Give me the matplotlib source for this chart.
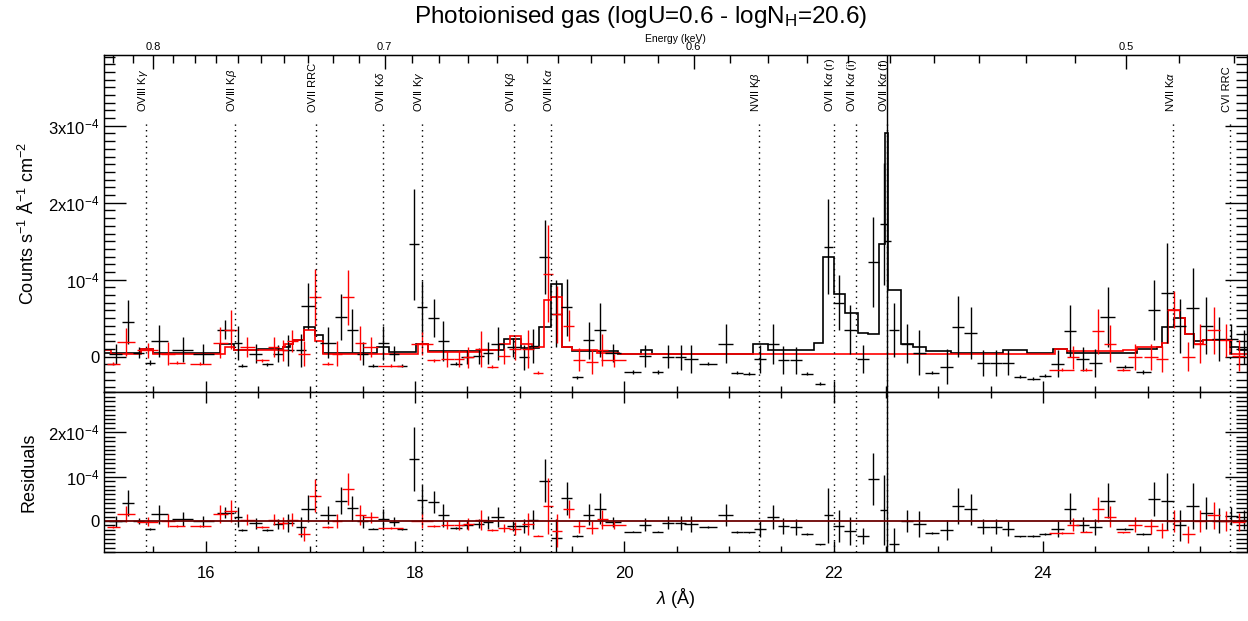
import numpy as np
import matplotlib
matplotlib.use("Agg")
from matplotlib import pyplot as plt
from matplotlib.ticker import FixedLocator, MultipleLocator, FuncFormatter
from matplotlib.transforms import blended_transform_factory

plt.rcParams['font.family'] = ['Liberation Sans', 'DejaVu Sans']
plt.rcParams['mathtext.fontset'] = 'custom'
plt.rcParams['mathtext.rm'] = 'Liberation Sans'
plt.rcParams['mathtext.it'] = 'Liberation Sans:italic'
plt.rcParams['mathtext.bf'] = 'Liberation Sans:bold'

# flux in units of 1e-4 counts s^-1 A^-1 cm^-2, wavelength in Angstrom
# black data: wavelength, flux, error
blk_wl = [15.14, 15.26, 15.36, 15.47, 15.56, 15.78, 15.98, 16.19, 16.31, 16.35, 16.48, 16.59, 16.69,
          16.79, 16.91, 16.98, 17.17, 17.29, 17.40, 17.50, 17.60, 17.70, 17.80, 17.88, 17.99, 18.07,
          18.18, 18.27, 18.39, 18.50, 18.61, 18.70, 18.79, 18.94, 19.04, 19.13, 19.24, 19.35, 19.45,
          19.55, 19.66, 19.77, 19.89, 20.08, 20.20, 20.32, 20.42, 20.54, 20.64, 20.80, 20.97, 21.08,
          21.19, 21.30, 21.42, 21.52, 21.64, 21.75, 21.87, 21.95, 22.05, 22.16, 22.28, 22.38, 22.48,
          22.515, 22.58, 22.70, 22.82, 22.94, 23.08, 23.19, 23.31, 23.43, 23.55, 23.67, 23.78, 23.91,
          24.02, 24.14, 24.26, 24.38, 24.50, 24.62, 24.78, 24.96, 25.06, 25.19, 25.31, 25.43, 25.56,
          25.68, 25.80, 25.92]
blk_flux = [0.04, 0.45, 0.05, -0.08, 0.20, 0.09, 0.04, 0.35, 0.18, -0.12, 0.04, -0.10, 0.04,
            0.08, 0.08, 0.66, 0.18, 0.51, 0.34, 0.04, -0.12, 0.18, 0.04, -0.12, 1.46, 0.64,
            0.50, 0.20, -0.09, -0.01, 0.01, 0.05, 0.17, 0.12, -0.01, 0.14, 1.29, 0.56, 0.64,
            -0.27, 0.21, 0.35, 0.05, -0.20, 0.01, -0.20, 0.00, -0.01, -0.03, -0.09, 0.17, -0.21,
            -0.22, -0.03, 0.17, -0.04, -0.05, -0.22, -0.35, 1.43, 0.70, 0.35, -0.03, 1.23, 1.72,
            1.50, 0.35, 0.17, 0.05, -0.21, -0.13, 0.39, 0.31, -0.08, -0.08, -0.08, -0.26, -0.29,
            -0.25, -0.09, 0.33, -0.03, -0.08, 0.51, -0.13, -0.20, 0.60, 0.83, 0.40, 0.63, 0.40,
            0.23, 0.23, 0.12]
blk_err = [0.13, 0.29, 0.07, 0.03, 0.21, 0.16, 0.13, 0.12, 0.22, 0.02, 0.12, 0.02, 0.11,
           0.20, 0.22, 0.30, 0.20, 0.30, 0.28, 0.15, 0.02, 0.22, 0.10, 0.02, 0.72, 0.34,
           0.25, 0.26, 0.02, 0.09, 0.10, 0.14, 0.22, 0.12, 0.16, 0.22, 0.48, 0.43, 0.37,
           0.02, 0.24, 0.35, 0.12, 0.02, 0.14, 0.02, 0.15, 0.16, 0.18, 0.02, 0.25, 0.02,
           0.02, 0.18, 0.26, 0.18, 0.18, 0.02, 0.02, 0.62, 0.36, 0.32, 0.18, 0.59, 0.79,
           5.0, 0.35, 0.25, 0.29, 0.02, 0.23, 0.40, 0.34, 0.17, 0.17, 0.16, 0.02, 0.02,
           0.02, 0.18, 0.34, 0.16, 0.18, 0.39, 0.02, 0.02, 0.39, 0.65, 0.35, 0.52, 0.37,
           0.29, 0.20, 0.22]

# red data
red_wl = [15.12, 15.24, 15.45, 15.64, 15.73, 15.95, 16.14, 16.24, 16.40, 16.54, 16.65, 16.74, 16.83,
          16.94, 17.05, 17.17, 17.26, 17.36, 17.48, 17.58, 17.77, 18.07, 18.18, 18.31, 18.42, 18.51,
          18.63, 18.74, 18.85, 18.96, 19.08, 19.18, 19.27, 19.36, 19.47, 19.57, 19.69, 19.79, 19.90,
          24.18, 24.29, 24.41, 24.53, 24.64, 24.77, 24.88, 25.03, 25.14, 25.25, 25.39, 25.50, 25.63,
          25.75, 25.87]
red_flux = [-0.09, 0.19, 0.08, 0.04, -0.08, -0.09, 0.18, 0.35, 0.12, -0.05, 0.12, 0.08, 0.20,
            0.04, 0.77, -0.09, 0.04, 0.77, 0.18, 0.12, -0.12, 0.17, -0.05, -0.03, -0.03, -0.01,
            0.10, -0.13, 0.01, 0.10, 0.10, -0.21, 1.08, 0.55, 0.40, -0.04, -0.07, 0.09, -0.05,
            -0.17, -0.01, -0.17, 0.33, 0.17, -0.17, 0.00, 0.00, -0.03, 0.61, 0.00, 0.17, 0.34,
            0.21, 0.01]
red_err = [0.02, 0.18, 0.10, 0.15, 0.02, 0.02, 0.20, 0.25, 0.13, 0.02, 0.13, 0.14, 0.14,
           0.16, 0.37, 0.02, 0.16, 0.36, 0.22, 0.13, 0.02, 0.15, 0.02, 0.10, 0.11, 0.14,
           0.23, 0.02, 0.10, 0.15, 0.25, 0.02, 0.63, 0.37, 0.20, 0.15, 0.15, 0.21, 0.09,
           0.02, 0.15, 0.02, 0.29, 0.24, 0.02, 0.17, 0.17, 0.17, 0.24, 0.19, 0.25, 0.30,
           0.22, 0.20]

# best-fit model (step function): bin edges and values
blk_model_edges = [15.03, 15.38, 15.50, 16.14, 16.27, 16.50, 16.74, 16.81, 16.84, 16.94, 17.05, 17.12,
                   17.64, 17.75, 18.01, 18.13, 18.63, 18.85, 19.01, 19.19, 19.30, 19.41, 19.50, 19.94,
                   20.16, 20.27, 21.23, 21.37, 21.81, 21.90, 22.00, 22.11, 22.23, 22.33, 22.43, 22.49,
                   22.52, 22.64, 22.76, 22.88, 23.12, 23.62, 23.85, 24.10, 24.23, 24.90, 25.09, 25.14,
                   25.25, 25.36, 25.44, 25.53, 25.79, 25.87, 25.96]
blk_model = [0.05, 0.10, 0.05, 0.16, 0.09, 0.10, 0.12, 0.16, 0.22, 0.38, 0.28, 0.05,
             0.13, 0.06, 0.16, 0.07, 0.08, 0.23, 0.11, 0.38, 0.95, 0.13, 0.07, 0.04,
             0.09, 0.04, 0.16, 0.08, 0.18, 1.30, 0.82, 0.57, 0.31, 0.29, 1.47, 2.91,
             0.86, 0.17, 0.12, 0.07, 0.05, 0.09, 0.05, 0.10, 0.05, 0.10, 0.13, 0.39,
             0.50, 0.30, 0.20, 0.22, 0.12, 0.09]
red_model_edges = [15.03, 15.10, 15.38, 15.50, 16.19, 16.27, 16.74, 16.76, 16.84, 16.94, 17.05, 17.12,
                   18.03, 18.13, 18.63, 18.80, 18.91, 19.01, 19.12, 19.23, 19.30, 19.41, 19.50, 19.74,
                   19.95, 24.12, 24.23, 24.77, 24.90, 25.09, 25.14, 25.20, 25.31, 25.36, 25.44, 25.53,
                   25.79, 25.96]
red_model = [0.08, 0.04, 0.10, 0.03, 0.12, 0.09, 0.12, 0.17, 0.22, 0.34, 0.20, 0.04,
             0.17, 0.06, 0.08, 0.17, 0.27, 0.17, 0.12, 0.74, 0.77, 0.13, 0.08, 0.05,
             0.03, 0.10, 0.07, 0.09, 0.12, 0.12, 0.18, 0.61, 0.50, 0.30, 0.17, 0.21,
             0.03]

# line identifications
line_wl = [15.43, 16.28, 17.06, 17.70, 18.07, 18.95, 19.305, 21.29, 22.00, 22.21, 22.51, 25.245, 25.79]
line_names = ['OVIII K$\\gamma$', 'OVIII K$\\beta$', 'OVII RRC', 'OVII K$\\delta$', 'OVII K$\\gamma$',
              'OVII K$\\beta$', 'OVIII K$\\alpha$', 'NVII K$\\beta$', 'OVII K$\\alpha$ (r)',
              'OVII K$\\alpha$ (i)', 'OVII K$\\alpha$ (f)', 'NVII K$\\alpha$', 'CVI RRC']

# energy axis ticks (keV)
energy_major = [0.5, 0.6, 0.7, 0.8]
energy_minor = np.round(np.arange(0.48, 0.83, 0.01), 2)
hc = 12.398  # keV * Angstrom


def model_at(edges, vals, x):
    idx = np.searchsorted(edges, x, side='right') - 1
    idx = np.clip(idx, 0, len(vals) - 1)
    return np.asarray(vals)[idx]


def half_width(x):
    return np.clip(np.gradient(np.asarray(x)) / 2, 0.03, 0.12)


fig = plt.figure(figsize=(12.48, 6.21), dpi=100)
ax = fig.add_axes([104 / 1248, 1 - 392 / 621, 1143 / 1248, 337 / 621])
axr = fig.add_axes([104 / 1248, 1 - 552 / 621, 1143 / 1248, 160 / 621], sharex=ax)

xmin, xmax = 15.03, 25.95

# main panel
ax.errorbar(blk_wl, blk_flux, yerr=blk_err, xerr=half_width(blk_wl), fmt='none',
            ecolor='k', elinewidth=1, capsize=0)
ax.errorbar(red_wl, red_flux, yerr=red_err, xerr=half_width(red_wl), fmt='none',
            ecolor='r', elinewidth=1, capsize=0)
ax.stairs(blk_model, blk_model_edges, baseline=None, color='k', lw=1.2)
ax.stairs(red_model, red_model_edges, baseline=None, color='r', lw=1.2)

# residuals
blk_res = np.asarray(blk_flux) - model_at(blk_model_edges, blk_model, blk_wl)
red_res = np.asarray(red_flux) - model_at(red_model_edges, red_model, red_wl)
axr.errorbar(blk_wl, blk_res, yerr=blk_err, xerr=half_width(blk_wl), fmt='none',
             ecolor='k', elinewidth=1, capsize=0)
axr.errorbar(red_wl, red_res, yerr=red_err, xerr=half_width(red_wl), fmt='none',
             ecolor='r', elinewidth=1, capsize=0)
axr.axhline(0, color='k', lw=1.2)
axr.axhline(0, color='r', lw=1.2, alpha=0.45)

# line markers
tr = blended_transform_factory(ax.transData, ax.transAxes)
for w, name in zip(line_wl, line_names):
    ax.axvline(w, ymin=0, ymax=0.807, color='k', lw=1, linestyle=(0, (1, 3)))
    axr.axvline(w, color='k', lw=1, linestyle=(0, (1, 3)))
    ax.text(w - 0.03, 0.831, name, transform=tr, rotation=90, ha='center', va='bottom', fontsize=8)

ax.set_xlim(xmin, xmax)
ax.set_ylim(-0.46, 3.92)
axr.set_ylim(-0.70, 2.91)

# ticks
for a in (ax, axr):
    a.xaxis.set_major_locator(MultipleLocator(2))
    a.xaxis.set_minor_locator(MultipleLocator(0.5))
    a.yaxis.set_minor_locator(MultipleLocator(0.1))
    a.tick_params(axis='x', which='major', direction='in', length=8, width=1, top=True)
    a.tick_params(axis='x', which='minor', direction='in', length=4, width=1, top=True)
    a.tick_params(axis='y', which='major', direction='in', length=16, width=1, right=True, labelsize=12)
    a.tick_params(axis='y', which='minor', direction='in', length=8, width=1, right=True)
    for s in a.spines.values():
        s.set_linewidth(1)

ax.tick_params(axis='x', which='both', top=False, labelbottom=False)
axr.tick_params(axis='x', labelsize=12, pad=10)

ax.yaxis.set_major_locator(FixedLocator([0, 1, 2, 3]))
ax.yaxis.set_major_formatter(FuncFormatter(
    lambda v, p: {0: '0', 1: '10$^{-4}$', 2: '2x10$^{-4}$', 3: '3x10$^{-4}$'}.get(int(round(v)), '')))
axr.yaxis.set_major_locator(FixedLocator([0, 1, 2]))
axr.yaxis.set_major_formatter(FuncFormatter(
    lambda v, p: {0: '0', 1: '10$^{-4}$', 2: '2x10$^{-4}$'}.get(int(round(v)), '')))

# energy axis on top
axt = ax.twiny()
axt.set_xlim(xmin, xmax)
axt.set_xticks([hc / e for e in energy_major])
axt.set_xticklabels(['%.1f' % e for e in energy_major])
axt.set_xticks([hc / e for e in energy_minor if xmin < hc / e < xmax], minor=True)
axt.tick_params(which='major', direction='in', length=10, width=1, labelsize=8, pad=2)
axt.tick_params(which='minor', direction='in', length=6, width=1)
axt.set_xlabel('Energy (keV)', fontsize=7.5, labelpad=0)

ax.set_ylabel('Counts s$^{-1}$ Å$^{-1}$ cm$^{-2}$', fontsize=13)
ax.yaxis.set_label_coords(-0.058, 0.5)
axr.set_ylabel('Residuals', fontsize=13)
axr.yaxis.set_label_coords(-0.058, 0.5)
axr.set_xlabel('$\\lambda$ (Å)', fontsize=13, labelpad=4)

fig.text(641 / 1248, 1 - 17 / 621, 'Photoionised gas (logU=0.6 - logN$_{\\rm H}$=20.6)',
         ha='center', va='center', fontsize=17.5)

fig.savefig('out.png', dpi=100)
